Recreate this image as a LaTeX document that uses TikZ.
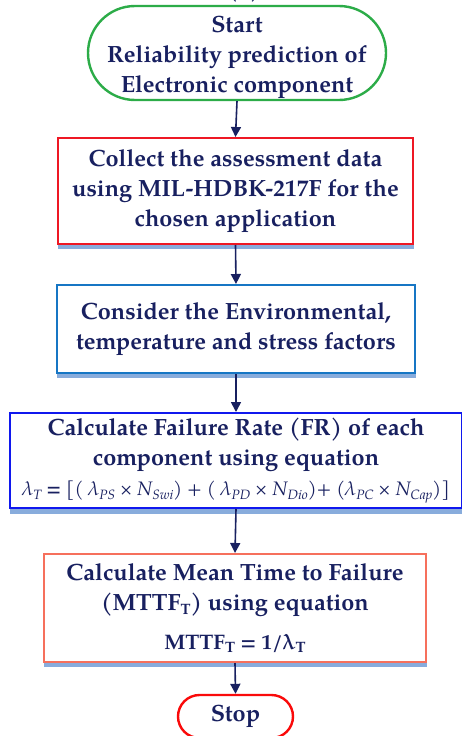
\documentclass[tikz,border=0pt]{standalone}
\usepackage{fontspec}
\setmainfont{TeX Gyre Pagella}
\usetikzlibrary{arrows.meta,shapes.misc}

\definecolor{ink}{RGB}{24,32,96}
\definecolor{startgreen}{RGB}{44,172,72}
\definecolor{collectred}{RGB}{238,24,36}
\definecolor{factorblue}{RGB}{22,118,196}
\definecolor{rateblue}{RGB}{16,24,238}
\definecolor{mttfsalmon}{RGB}{246,112,92}
\definecolor{stopred}{RGB}{250,10,10}
\definecolor{shadowblue}{RGB}{136,172,220}

% lowered small index for quantities such as MTTF_T
\newcommand\lo[2]{\raisebox{-0.35ex}{\fontsize{#1}{#1}\selectfont #2}}

\tikzset{
  every node/.style={text=ink, font=\bfseries\fontsize{23.5}{30}\selectfont, align=center, inner sep=0pt},
  procbox/.style={draw, line width=2pt, fill=white, rectangle},
  termbox/.style={draw, line width=2.4pt, fill=white, rounded rectangle},
  flow/.style={draw=ink, line width=1.6pt, -{Triangle[length=10pt,width=10pt]}},
}

\begin{document}
\begin{tikzpicture}[x=1pt,y=-1pt]
\useasboundingbox (0,0) rectangle (461,736);
\fill[white] (0,0) rectangle (461,736);

% caption letter, mostly above the frame
\node (tag) at (244,-9) {(a)};

% soft shadows under the process boxes
\fill[shadowblue] (58,244) rectangle (414,249);
\fill[shadowblue] (57,373) rectangle (416,378);
\fill[shadowblue] (10,508) rectangle (462,514);
\fill[shadowblue] (44,662) rectangle (427,667);

\node[termbox, draw=startgreen, minimum width=298pt, minimum height=94pt] (start) at (237,53) {};
\node (starttext) at (237,57.5) {Start\\Reliability prediction of\\Electronic component};

\node[procbox, draw=collectred, minimum width=355pt, minimum height=106pt] (collect) at (235.5,191)
  {Collect the assessment data\\using MIL-HDBK-217F for the\\chosen application};

\node[procbox, draw=factorblue, minimum width=358pt, minimum height=88pt] (factors) at (236,329)
  {Consider the Environmental,\\temperature and stress factors};

\node[procbox, draw=rateblue, minimum width=452pt, minimum height=95pt] (rate) at (236,460.5)
  {Calculate Failure Rate (FR) of each\\component using equation\\[0pt]
   {\mdseries\itshape\fontsize{19.5}{21}\selectfont
    λ\lo{13.5}{T} \textbf{=} [( λ\lo{13.5}{PS} × N\lo{13.5}{Swi}) + ( λ\lo{13.5}{PD} × N\lo{13.5}{Dio})+ (λ\lo{13.5}{PC} × N\lo{13.5}{Cap})]}};

\node[procbox, draw=mttfsalmon, minimum width=382pt, minimum height=108pt] (mttf) at (235,608)
  {Calculate Mean Time to Failure\\(MTTF\lo{15}{T}) using equation\\[9pt]
   {\fontsize{21}{22}\selectfont MTTF\lo{15}{T} = 1/λ\lo{15}{T}}};

\node[termbox, draw=stopred, minimum width=115pt, minimum height=43pt] (stop) at (235.5,716.5) {Stop};

\draw[flow] (start.south) -- (collect.north);
\draw[flow] (collect.south) -- (factors.north);
\draw[flow] (factors.south) -- (rate.north);
\draw[flow] (rate.south) -- (mttf.north);
\draw[flow] (mttf.south) -- (stop.north);
\end{tikzpicture}
\end{document}
